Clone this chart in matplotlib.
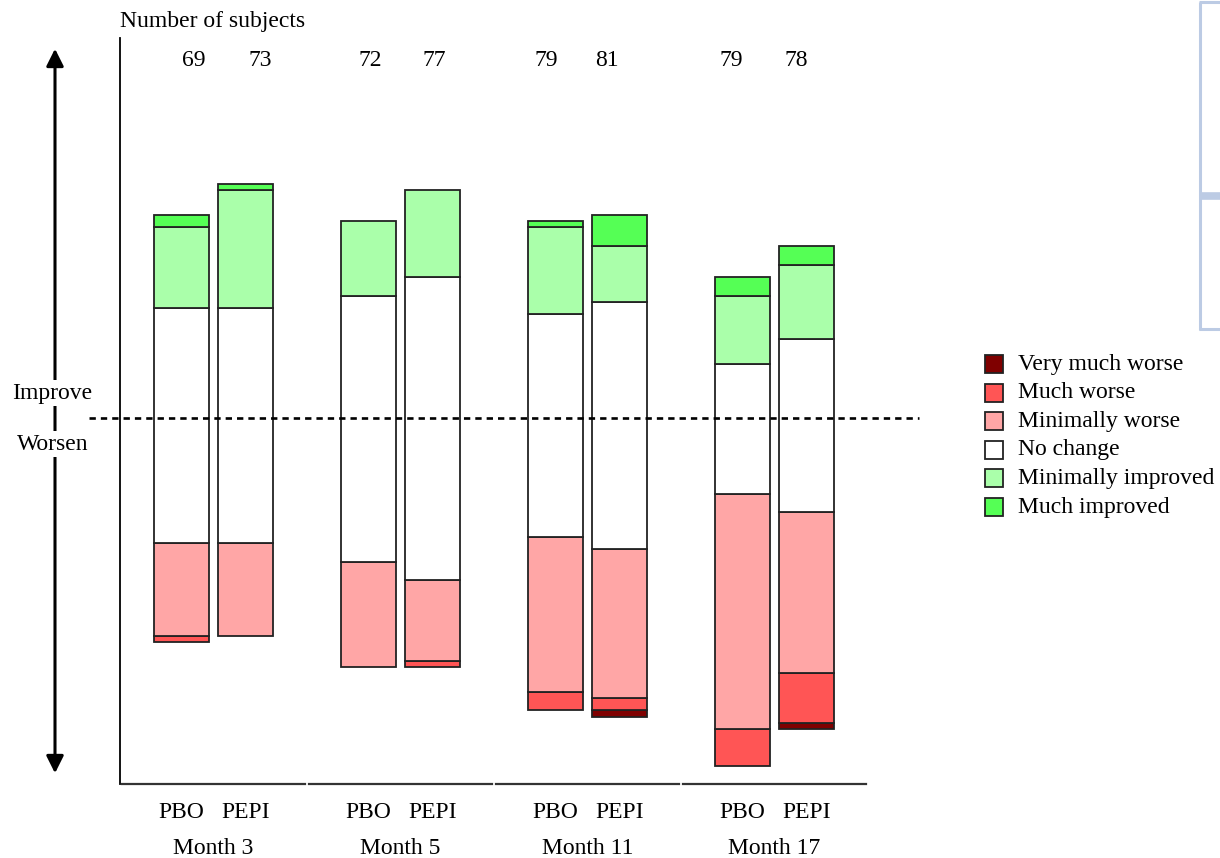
import matplotlib
matplotlib.use("Agg")
import matplotlib.pyplot as plt
from matplotlib.lines import Line2D
from matplotlib.patches import Rectangle, FancyArrowPatch
import numpy as np

plt.rcParams['font.family'] = ['Liberation Serif', 'DejaVu Serif']

# Visit groups and treatment arms
months = ["Month 3", "Month 5", "Month 11", "Month 17"]
arms = ["PBO", "PEPI"]

# Subjects per bar (PBO, PEPI for each month)
n_subjects = [69, 73, 72, 77, 79, 81, 79, 78]

# Counts per response category, same bar order
very_much_worse = [0, 0, 0, 0, 0, 1, 0, 1]
much_worse = [1, 0, 0, 1, 3, 2, 6, 8]
minimally_worse = [15, 15, 17, 13, 25, 24, 38, 26]
no_change = [38, 38, 43, 49, 36, 40, 21, 28]
minimally_improved = [13, 19, 12, 14, 14, 9, 11, 12]
much_improved = [2, 1, 0, 0, 1, 5, 3, 3]

categories = ["Very much worse", "Much worse", "Minimally worse",
              "No change", "Minimally improved", "Much improved"]
colors = ["#7f0000", "#ff5555", "#ffa6a6", "#ffffff", "#aaffaa", "#55ff55"]

W, H = 1220, 858
PX = 6.19  # pixels per subject on the vertical scale
fig = plt.figure(figsize=(W / 100, H / 100), dpi=100)
ax_l, ax_r, ax_t, ax_b = 120, 868, 38, 784
ax = fig.add_axes([ax_l / W, 1 - ax_b / H, (ax_r - ax_l) / W, (ax_b - ax_t) / H])
ax.set_xlim(-0.5, 3.5)
ax.set_ylim(-57.9, 62.6)

offset = 0.1717
width = 0.293
xpos = []
for g in range(len(months)):
    xpos += [g - offset, g + offset]
xpos = np.array(xpos)

segments = np.array([very_much_worse, much_worse, minimally_worse,
                     no_change, minimally_improved, much_improved], dtype=float)
nc = np.array(no_change)
# Worsening stacks hang below zero; "No change" is split around the zero line
start = -(nc - nc // 2) - segments[:3].sum(axis=0)

bottom = start.copy()
for seg, col in zip(segments, colors):
    mask = seg > 0
    ax.bar(xpos[mask], seg[mask], width=width, bottom=bottom[mask],
           color=col, edgecolor="#222222", linewidth=1.3, zorder=3)
    bottom += seg

# Reference line between improvement and worsening
ax.add_line(Line2D([-0.667, 3.771], [1.21, 1.21], color="black", lw=1.9,
                   linestyle=(0, (2.4, 1.9)), clip_on=False, zorder=4))

for s in ["top", "right", "bottom"]:
    ax.spines[s].set_visible(False)
ax.spines["left"].set_linewidth(1.3)
ax.set_xticks([])
ax.set_yticks([])

# Segmented baseline, one piece per month group
gap = 0.01
for g in range(len(months)):
    ax.add_line(Line2D([g - 0.5 + gap, g + 0.5 - gap], [-57.9, -57.9],
                       color="#333333", lw=1.6, clip_on=False))

fs = 17
to_y = lambda py: 1 - py / H
to_x = lambda px: px / W

# Arm and month labels
for i, x in enumerate(xpos):
    ax.text(x, -57.9 - 28.5 / PX, arms[i % 2], ha="center", va="center",
            fontsize=fs)
for g, m in enumerate(months):
    ax.text(g, -57.9 - 64 / PX, m, ha="center", va="center", fontsize=fs)

# Subject counts along the top
count_x = [194, 260, 370, 434, 546, 607, 731, 796]
for cx, n in zip(count_x, n_subjects):
    fig.text(to_x(cx), to_y(61), str(n), ha="center", va="center", fontsize=fs)

fig.text(to_x(120), to_y(22), "Number of subjects", ha="left", va="center",
         fontsize=fs)

# Double-headed direction arrow
arrow = FancyArrowPatch((to_x(55), to_y(776)), (to_x(55), to_y(46)),
                        transform=fig.transFigure, arrowstyle="<|-|>",
                        mutation_scale=26, lw=2.2, color="black")
fig.add_artist(arrow)
fig.text(to_x(52), to_y(393), "Improve", ha="center", va="center",
         fontsize=fs, bbox=dict(facecolor="white", edgecolor="none", pad=2))
fig.text(to_x(53), to_y(444), "Worsen", ha="center", va="center",
         fontsize=fs, bbox=dict(facecolor="white", edgecolor="none", pad=2))

# Legend, listed from most worsened to most improved
for k, (lab, col) in enumerate(zip(categories, colors)):
    yc = 364 + k * 28.6
    fig.add_artist(Rectangle((to_x(985), to_y(yc + 9)), 18 / W, 18 / H,
                             transform=fig.transFigure, facecolor=col,
                             edgecolor="#222222", lw=1.3))
    fig.text(to_x(1018), to_y(yc), lab, ha="left", va="center", fontsize=fs)

# Frame fragment at the upper right edge
fc = "#bccbe4"
for xs, ys, lw in [([1199, 1220], [2, 2], 2.2),
                   ([1199.5, 1199.5], [2, 330], 2.2),
                   ([1199, 1220], [329, 329], 2.2),
                   ([1199, 1220], [195.5, 195.5], 5.5)]:
    fig.add_artist(Line2D([to_x(v) for v in xs], [to_y(v) for v in ys],
                          color=fc, lw=lw, transform=fig.transFigure,
                          solid_capstyle="butt"))

fig.savefig("out.png", dpi=100, facecolor="white")
